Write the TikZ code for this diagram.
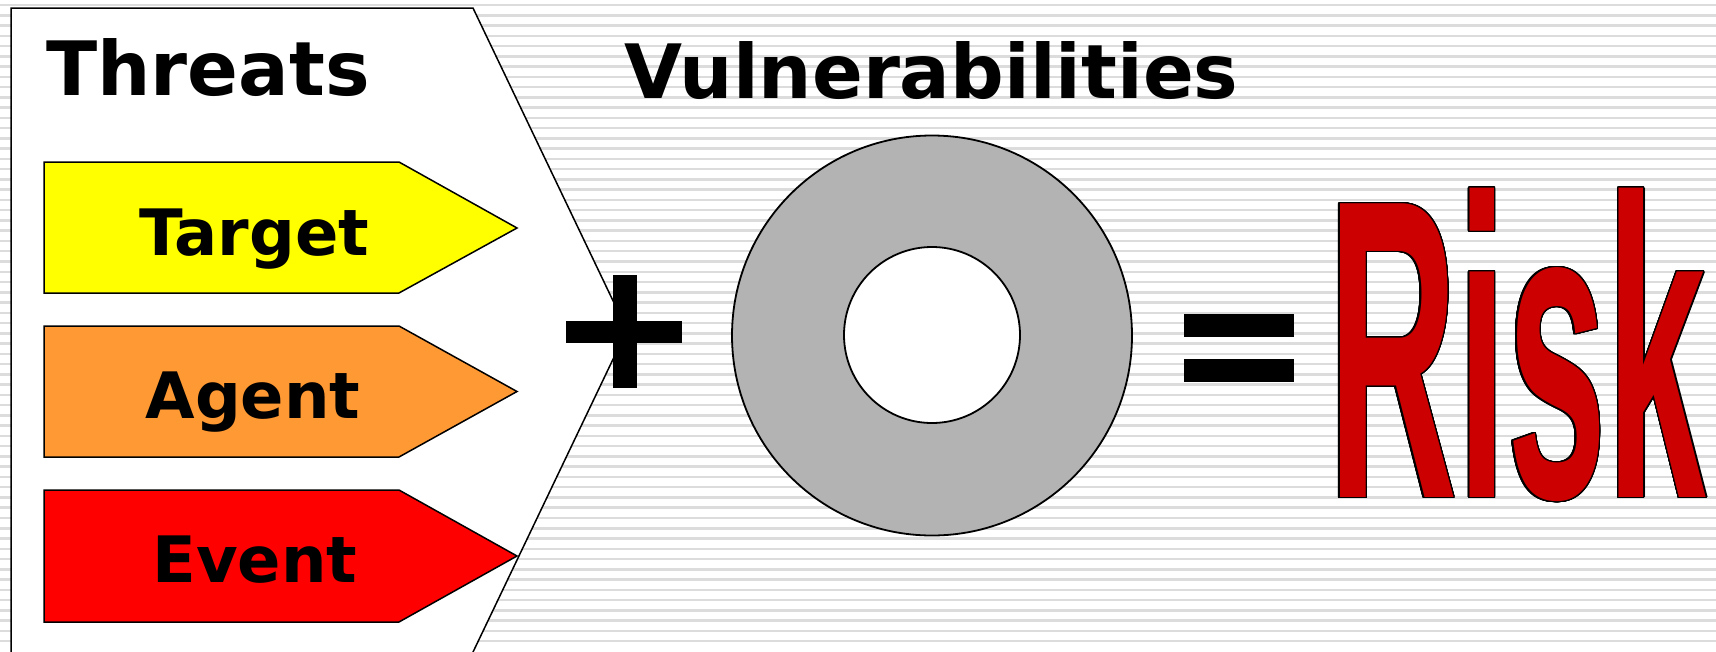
\documentclass[tikz,border=0pt]{standalone}
\usepackage{fontspec}
\usepackage[copies]{contour}
\newfontfamily\headfont{DejaVu Sans}
\newfontfamily\riskfont{Liberation Sans}
\definecolor{stripe}{HTML}{DCDCDC}
\definecolor{ringgray}{HTML}{B3B3B3}
\definecolor{tyellow}{HTML}{FFFF00}
\definecolor{torange}{HTML}{FF9933}
\definecolor{tred}{HTML}{FF0000}
\definecolor{riskred}{HTML}{CC0000}
\contourlength{1.4pt}
\contournumber{32}
\begin{document}
\begin{tikzpicture}[x=1pt,y=-1pt,
  outline/.style={draw=black, line width=1.5pt, line join=miter},
  title/.style={font=\headfont\bfseries\fontsize{75}{75}\selectfont, anchor=base west, inner sep=0pt},
  tag/.style={font=\headfont\bfseries\fontsize{64}{64}\selectfont, anchor=base, inner sep=0pt},
  bar/.style={fill=black}]
\useasboundingbox (0,0) rectangle (1716,651);
% striped background
\fill[white] (0,0) rectangle (1716,651);
\foreach \k in {0,...,62}
  \draw[stripe, line width=2.5pt] (0,5+10.26*\k) -- (1716,5+10.26*\k);
% threats panel
\draw[outline, fill=white] (11,8) -- (473,8) -- (627,330) -- (471.6,655) -- (11,655) -- cycle;
\node[title] (threats) at (46,95) {Threats};
% threat components
\draw[outline, fill=tyellow] (44,162) -- (399,162) -- (517,228) -- (399,293) -- (44,293) -- cycle;
\draw[outline, fill=torange] (44,326) -- (399,326) -- (517,391.5) -- (399,457) -- (44,457) -- cycle;
\draw[outline, fill=tred]    (44,490) -- (399,490) -- (517,556) -- (399,622) -- (44,622) -- cycle;
\node[tag] (target) at (254,255) {Target};
\node[tag] (agent)  at (253,418) {Agent};
\node[tag] (event)  at (255,582) {Event};
% plus sign
\fill[bar] (566,321) rectangle (682,343);
\fill[bar] (613,275) rectangle (637,388);
% vulnerabilities
\node[title] (vuln) at (624,98) {Vulnerabilities};
\draw[line width=1.8pt, fill=ringgray] (932,335.5) circle[radius=200pt];
\draw[line width=1.8pt, fill=white] (932,335) circle[radius=88pt];
% equals sign
\fill[bar] (1184,314) rectangle (1294,337);
\fill[bar] (1184,359) rectangle (1294,382);
% result
\node[anchor=base west, inner sep=0pt, text=riskred] (risk) at (1328,497.5)
  {\contour{black}{\scalebox{0.419}[1]{\riskfont\bfseries\fontsize{427}{427}\selectfont Risk}}};
\end{tikzpicture}
\end{document}
